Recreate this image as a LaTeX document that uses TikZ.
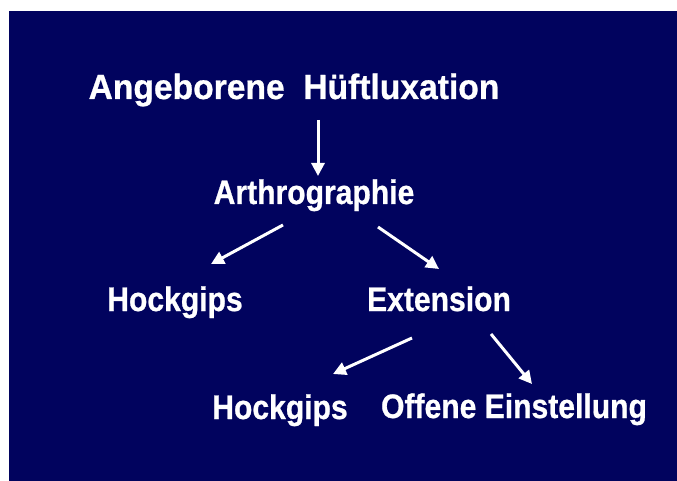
\documentclass[tikz,border=0pt]{standalone}
\usepackage{fontspec}
\setmainfont{Liberation Sans}
\newfontfamily\heavyfont{Liberation Sans Bold}[FakeBold=0.8]
\usetikzlibrary{arrows.meta}
\definecolor{navy}{RGB}{1,3,94}
\begin{document}
\begin{tikzpicture}[x=1pt,y=-1pt,
  lbl/.style={text=white,font=\heavyfont\fontsize{34}{38}\selectfont,anchor=base,inner sep=0pt,xscale=0.885},
  big/.style={lbl,font=\heavyfont\fontsize{35}{40}\selectfont,xscale=1.085},
  arr/.style={white,line width=3pt,-{Triangle[length=13pt,width=13pt]}}]
\useasboundingbox (0,0) rectangle (677,481);
\fill[white] (0,0) rectangle (677,481);
\fill[navy] (9,11) rectangle (677,481);
\node[big] (title) at (294,99) {Angeborene\ \ Hüftluxation};
\node[lbl] (arthro) at (314,204) {Arthrographie};
\node[lbl] (hock1) at (175,311) {Hockgips};
\node[lbl] (ext) at (439,311) {Extension};
\node[lbl] (hock2) at (280,419) {Hockgips};
\node[lbl] (offen) at (514,418) {Offene Einstellung};
\coordinate (a1s) at (318,120); \coordinate (a1e) at (318,176);
\coordinate (a2s) at (283,225); \coordinate (a2e) at (211,264);
\coordinate (a3s) at (378,227); \coordinate (a3e) at (439,269);
\coordinate (a4s) at (412,338); \coordinate (a4e) at (333,374);
\coordinate (a5s) at (491,334); \coordinate (a5e) at (532,384);
\draw[arr] (a1s) -- (a1e);
\draw[arr] (a2s) -- (a2e);
\draw[arr] (a3s) -- (a3e);
\draw[arr] (a4s) -- (a4e);
\draw[arr] (a5s) -- (a5e);
\end{tikzpicture}
\end{document}
